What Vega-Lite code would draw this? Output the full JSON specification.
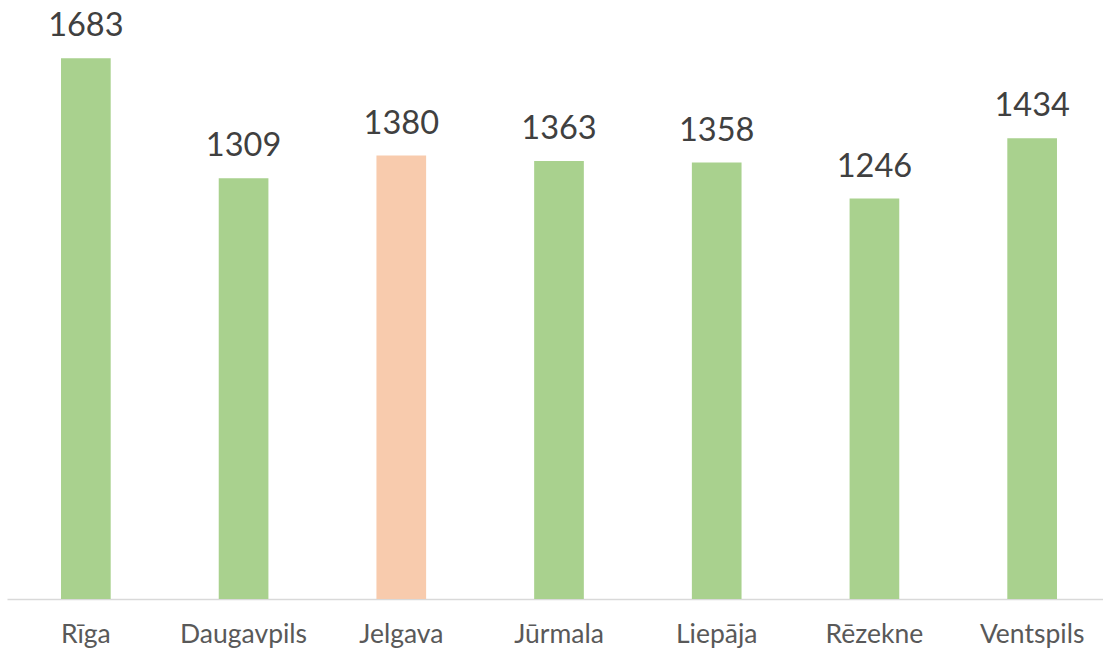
{
  "$schema": "https://vega.github.io/schema/vega-lite/v6.json",
  "width": 1104,
  "height": 599,
  "autosize": {"type": "none"},
  "padding": {"left": 7, "top": 0, "right": 0, "bottom": 54},
  "background": "white",
  "config": {"view": {"stroke": null}},
  "data": {"values": [
    {"city": "Rīga", "value": 1683, "hl": "no"},
    {"city": "Daugavpils", "value": 1309, "hl": "no"},
    {"city": "Jelgava", "value": 1380, "hl": "yes"},
    {"city": "Jūrmala", "value": 1363, "hl": "no"},
    {"city": "Liepāja", "value": 1358, "hl": "no"},
    {"city": "Rēzekne", "value": 1246, "hl": "no"},
    {"city": "Ventspils", "value": 1434, "hl": "no"}
  ]},
  "encoding": {
    "x": {"field": "city", "type": "nominal", "sort": null,
      "scale": {"paddingInner": 0.685, "paddingOuter": 0.3425},
      "axis": {"title": null, "labelAngle": 0, "ticks": false, "domainColor": "#d9d9d9", "domainWidth": 1.5,
        "labelFont": "Lato", "labelFontSize": 26.5, "labelColor": "#595959", "labelPadding": 22}},
    "y": {"field": "value", "type": "quantitative", "scale": {"domain": [0, 1864], "nice": false}, "axis": null}
  },
  "layer": [
    {"mark": {"type": "bar"},
     "encoding": {"color": {"field": "hl", "type": "nominal", "scale": {"domain": ["no", "yes"], "range": ["#A9D18E", "#F8CBAD"]}, "legend": null}}},
    {"mark": {"type": "text", "baseline": "alphabetic", "dy": -22, "font": "Lato", "fontSize": 32.5, "color": "#404040"},
     "encoding": {"text": {"field": "value", "type": "quantitative"}}}
  ]
}
